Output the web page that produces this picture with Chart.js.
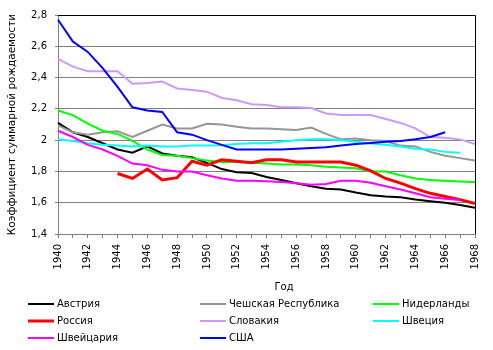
<!DOCTYPE html>
<html>
<head>
<meta charset="utf-8">
<script src="https://cdn.jsdelivr.net/npm/chart.js@4/dist/chart.umd.min.js"></script>
<style>
  html, body { margin: 0; padding: 0; background: #fff; }
  #wrap { width: 493px; height: 350px; }
</style>
</head>
<body>
<div id="wrap"><canvas id="tfrChart" width="493" height="350"></canvas></div>
<script>
// data
const years = ['1940','1941','1942','1943','1944','1945','1946','1947','1948','1949','1950','1951','1952','1953','1954',
  '1955','1956','1957','1958','1959','1960','1961','1962','1963','1964','1965','1966','1967','1968'];
const yTickLabels = ['1,4', '1,6', '1,8', '2', '2,2', '2,4', '2,6', '2,8'];

const austria = [2.11, 2.05, 2.02, 1.98, 1.94, 1.92, 1.96, 1.915, 1.90, 1.89, 1.855, 1.815, 1.795, 1.79, 1.765,
  1.745, 1.725, 1.705, 1.69, 1.685, 1.665, 1.648, 1.64, 1.635, 1.62, 1.61, 1.60, 1.585, 1.568];
const czech = [2.095, 2.05, 2.035, 2.05, 2.057, 2.02, 2.06, 2.10, 2.075, 2.075, 2.105, 2.10, 2.085, 2.075, 2.075,
  2.07, 2.065, 2.08, 2.04, 2.005, 2.01, 2.00, 1.995, 1.965, 1.96, 1.925, 1.90, 1.885, 1.87];
const netherlands = [2.19, 2.16, 2.105, 2.06, 2.04, 1.995, 1.94, 1.905, 1.90, 1.885, 1.87, 1.86, 1.86, 1.855, 1.85,
  1.845, 1.845, 1.84, 1.83, 1.825, 1.82, 1.80, 1.80, 1.775, 1.755, 1.745, 1.74, 1.735, 1.733];
const russia = [null, null, null, null, 1.787, 1.755, 1.815, 1.745, 1.76, 1.865, 1.84, 1.875, 1.865, 1.855, 1.875,
  1.875, 1.86, 1.86, 1.86, 1.86, 1.84, 1.803, 1.755, 1.725, 1.69, 1.66, 1.64, 1.62, 1.595];
const slovakia = [2.52, 2.47, 2.44, 2.44, 2.44, 2.36, 2.366, 2.375, 2.33, 2.32, 2.31, 2.27, 2.255, 2.23, 2.225,
  2.21, 2.21, 2.205, 2.17, 2.16, 2.16, 2.16, 2.135, 2.11, 2.075, 2.02, 2.015, 2.005, 1.975];
const sweden = [2.005, 1.995, 1.98, 1.97, 1.965, 1.96, 1.965, 1.96, 1.96, 1.965, 1.966, 1.968, 1.975, 1.98, 1.98,
  1.99, 2.0, 2.005, 2.005, 2.0, 1.99, 1.978, 1.97, 1.96, 1.945, 1.94, 1.925, 1.92, null];
const switzerland = [2.06, 2.02, 1.97, 1.94, 1.90, 1.85, 1.84, 1.81, 1.80, 1.80, 1.775, 1.755, 1.74, 1.74, 1.737,
  1.732, 1.725, 1.715, 1.72, 1.74, 1.74, 1.727, 1.705, 1.685, 1.66, 1.635, 1.625, 1.617, null];
const usa = [2.77, 2.63, 2.564, 2.46, 2.34, 2.21, 2.19, 2.18, 2.05, 2.035, 2.0, 1.97, 1.94, 1.94, 1.94,
  1.94, 1.945, 1.95, 1.955, 1.966, 1.976, 1.982, 1.99, 1.995, 2.005, 2.02, 2.05, null, null];

const seriesNames = ['Австрия', 'Чешская Республика', 'Нидерланды', 'Россия', 'Словакия', 'Швеция', 'Швейцария', 'США'];
const seriesData = [austria, czech, netherlands, russia, slovakia, sweden, switzerland, usa];
const seriesColors = ['#000000', '#969696', '#00ff00', '#ff0000', '#cc99ff', '#00ffff', '#ff00ff', '#0000ff'];
const seriesWidths = [2, 2, 2, 3, 2, 2, 2, 2];

const FONT = 'DejaVu Sans';

// top/right frame, x title and legend (3 columns below the chart)
const extras = {
  id: 'extras',
  afterDraw(chart) {
    const c = chart.ctx;
    const a = chart.chartArea;
    c.save();
    c.strokeStyle = '#000';
    c.lineWidth = 1;
    c.beginPath();
    c.moveTo(a.left, a.top + 0.5);
    c.lineTo(a.right + 0.5, a.top + 0.5);
    c.lineTo(a.right + 0.5, a.bottom);
    c.stroke();

    c.fillStyle = '#000';
    c.font = '10px "' + FONT + '"';
    c.textAlign = 'center';
    c.textBaseline = 'middle';
    c.fillText('Год', 284, 287);

    const colX = [28, 200, 373];
    const rowY = [304, 321, 338];
    c.textAlign = 'left';
    chart.data.datasets.forEach((ds, i) => {
      const x = colX[i % 3];
      const y = rowY[Math.floor(i / 3)];
      c.strokeStyle = ds.borderColor;
      c.lineWidth = ds.borderWidth;
      c.beginPath();
      c.moveTo(x, y);
      c.lineTo(x + 26, y);
      c.stroke();
      c.fillStyle = '#000';
      c.fillText(ds.label, x + 29, y);
    });
    c.restore();
  }
};

const ctx = document.getElementById('tfrChart').getContext('2d');
const tfrChart = new Chart(ctx, {
  type: 'line',
  data: {
    labels: years,
    datasets: seriesNames.map((name, i) => ({
      label: name,
      data: seriesData[i],
      borderColor: seriesColors[i],
      backgroundColor: seriesColors[i],
      borderWidth: seriesWidths[i],
      pointRadius: 0,
      tension: 0,
      fill: false,
      order: seriesNames.length - i
    }))
  },
  options: {
    responsive: false,
    animation: false,
    devicePixelRatio: 1,
    layout: { padding: { top: 15, right: 14, bottom: 56, left: 0 } },
    plugins: {
      legend: { display: false },
      tooltip: { enabled: false }
    },
    scales: {
      x: {
        offset: false,
        grid: { drawOnChartArea: false, drawTicks: true, tickLength: 4, color: '#808080' },
        border: { color: '#808080' },
        ticks: {
          autoSkip: false,
          minRotation: 90,
          maxRotation: 90,
          padding: 6,
          color: '#000',
          font: { family: FONT, size: 10 },
          callback: (v, i) => (i % 2 === 0 ? years[i] : '')
        },
        afterFit: scale => { scale.height = 60; }
      },
      y: {
        min: 1.4,
        max: 2.8,
        grid: { color: '#808080', tickLength: 3 },
        border: { color: '#808080' },
        ticks: {
          stepSize: 0.2,
          padding: 8,
          color: '#000',
          font: { family: FONT, size: 10 },
          callback: (v, i) => yTickLabels[i]
        },
        title: {
          display: true,
          text: 'Коэффициент суммарной рождаемости',
          color: '#000',
          font: { family: FONT, size: 10.5 },
          padding: { top: 6, bottom: 0 }
        },
        afterFit: scale => { scale.width = 58; }
      }
    }
  },
  plugins: [extras]
});
</script>
</body>
</html>
